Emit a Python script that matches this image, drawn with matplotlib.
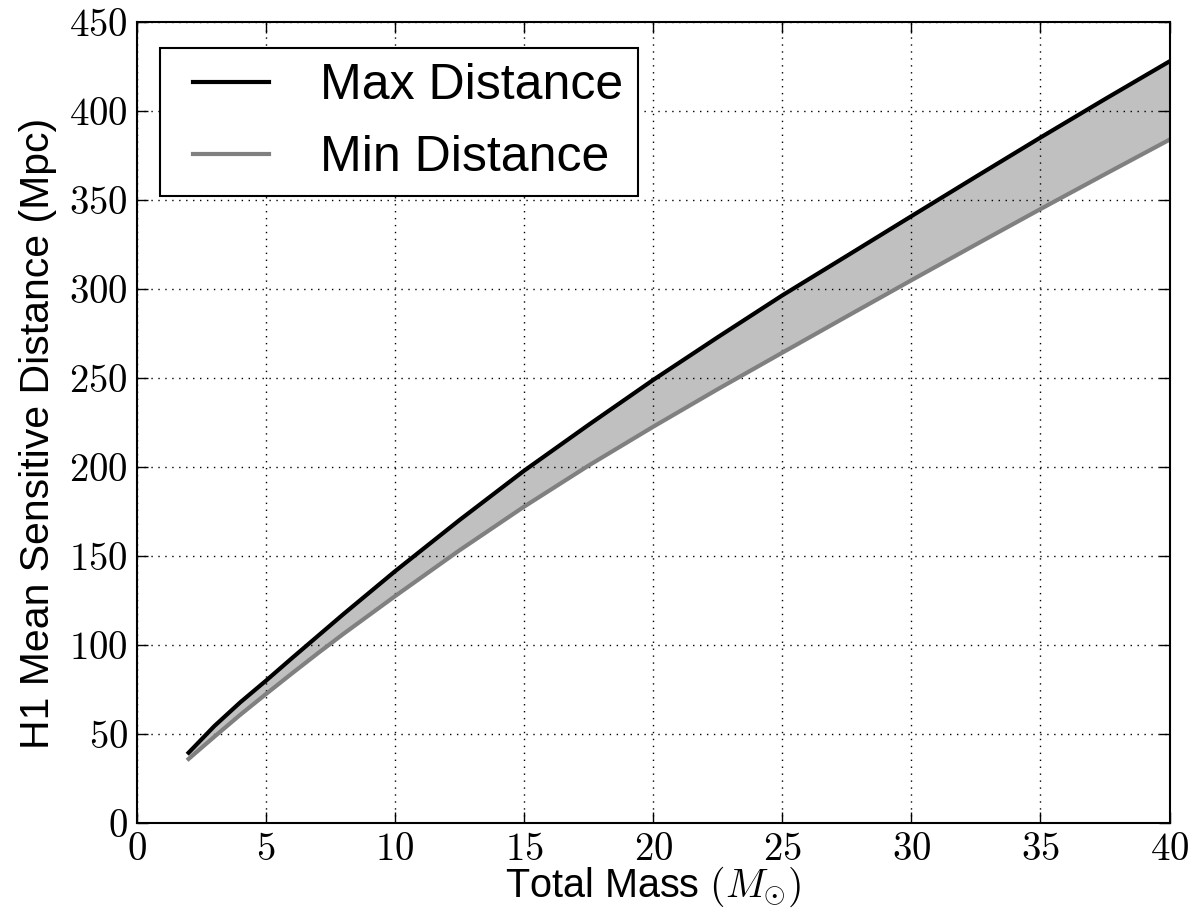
# sensitive distance band versus total mass

import numpy as np
import matplotlib
matplotlib.use("Agg")
import matplotlib.pyplot as plt
from matplotlib.ticker import FuncFormatter
from matplotlib.legend_handler import HandlerLine2D

total_mass = [2, 3, 4, 5, 6, 7, 8, 10, 12.5, 15, 17.5, 20, 22.5, 25, 27.5, 30, 32.5, 35, 37.5, 40]
max_distance = [39.5, 54.5, 67.8, 80, 92.6, 105, 117.4, 141.5, 170.3, 198, 223.8, 249, 273, 296.5,
                318.7, 341, 363.2, 385.2, 406.8, 428]
min_distance = [36, 48.5, 60.8, 72.5, 84, 95.3, 106.3, 127.5, 153.3, 177.8, 200.9, 222.7, 243.8, 264.3,
                284.7, 305, 325.1, 345, 364.6, 384]

xticks = [0, 5, 10, 15, 20, 25, 30, 35, 40]
yticks = [0, 50, 100, 150, 200, 250, 300, 350, 400, 450]


class IndentedLine(HandlerLine2D):
    # legend line that starts a bit in from the left of its handle box
    def get_xdata(self, legend, xdescent, ydescent, width, height, fontsize):
        x0 = -xdescent + 0.19 * width
        x1 = -xdescent + width
        xdata = np.array([x0, x1])
        return xdata, np.array([0.5 * (x0 + x1)])


def main():
    plt.rcParams["font.family"] = ["Liberation Sans", "DejaVu Sans"]
    plt.rcParams["mathtext.fontset"] = "cm"

    fig = plt.figure(figsize=(11.91, 9.10), dpi=100)
    ax = fig.add_axes([0.115, 0.0956, 0.867, 0.88])

    m = np.array(total_mass)
    ax.fill_between(m, min_distance, max_distance, color="#c0c0c0", lw=0)
    l1, = ax.plot(m, max_distance, color="black", lw=3, solid_joinstyle="round",
                  label="Max Distance")
    l2, = ax.plot(m, min_distance, color="#808080", lw=3, solid_joinstyle="round",
                  label="Min Distance")

    ax.set_xlim(0, 40)
    ax.set_ylim(0, 450)
    ax.set_xticks(xticks)
    ax.set_yticks(yticks)
    fmt = FuncFormatter(lambda v, pos: r"$%d$" % v)
    ax.xaxis.set_major_formatter(fmt)
    ax.yaxis.set_major_formatter(fmt)
    ax.tick_params(direction="in", top=True, right=True, length=8, width=1,
                   labelsize=28, pad=6.5)

    ax.grid(True, color="black", linestyle=(0, (1, 4)), linewidth=1)
    for s in ax.spines.values():
        s.set_linewidth(1.5)

    ax.set_xlabel(r"Total Mass $(M_{\odot})$", fontsize=28.5, labelpad=-2.5)
    ax.set_ylabel("H1 Mean Sensitive Distance (Mpc)", fontsize=29.5)
    ax.yaxis.set_label_coords(-0.077, 0.486)

    leg = ax.legend(loc="upper left", bbox_to_anchor=(0.022, 0.9675), borderaxespad=0,
                    fontsize=36, fancybox=False, framealpha=1, edgecolor="black",
                    handlelength=1.88, handletextpad=1.02, labelspacing=0.52,
                    borderpad=0.30,
                    handler_map={l1: IndentedLine(), l2: IndentedLine()})
    leg.get_frame().set_linewidth(1.5)

    fig.savefig("out.png", dpi=100)

if __name__ == "__main__":
    main()
